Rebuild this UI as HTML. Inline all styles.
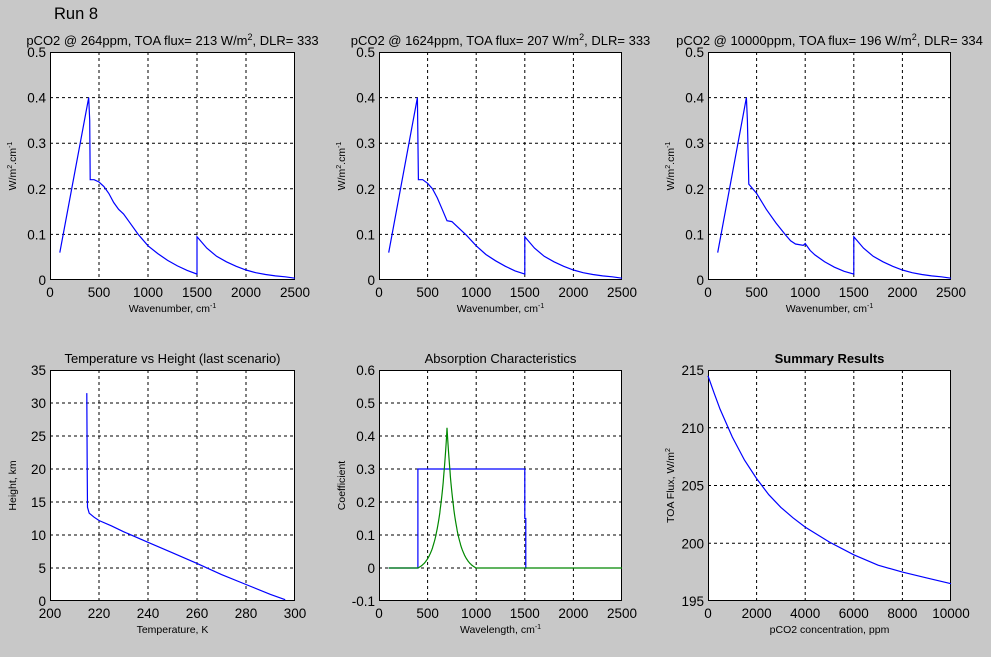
<!DOCTYPE html>
<html><head><meta charset="utf-8"><style>
html,body{margin:0;padding:0;background:#c8c8c8;}
svg{display:block;font-family:"Liberation Sans",Arial,sans-serif;}
</style></head><body>
<svg id="s" width="991" height="657" xmlns="http://www.w3.org/2000/svg">
<rect width="991" height="657" fill="#c8c8c8"/>
<text x="54" y="19" font-size="16.5" fill="#000">Run 8</text>
</svg>
<script>
(function(){
const S=document.getElementById('s');const NS='http://www.w3.org/2000/svg';
function el(t,a,txt){const e=document.createElementNS(NS,t);for(const k in a)e.setAttribute(k,a[k]);if(txt!==undefined)e.innerHTML=String(txt);S.appendChild(e);return e;}
function plot(o){
 const x0=o.x0,x1=o.x1,y0=o.y0,y1=o.y1,xmin=o.xmin,xmax=o.xmax,ymin=o.ymin,ymax=o.ymax;
 const X=v=>x0+(v-xmin)/(xmax-xmin)*(x1-x0), Y=v=>y1-(v-ymin)/(ymax-ymin)*(y1-y0);
 el('rect',{x:x0,y:y0,width:x1-x0,height:y1-y0,fill:'#fff'});
 o.xt.forEach(v=>{const p=X(v);if(v!==xmin&&v!==xmax)el('line',{x1:p,x2:p,y1:y0,y2:y1,stroke:'#000','stroke-dasharray':'3,3','stroke-width':1});
  el('text',{x:p,y:y1+17,'font-size':13.5,'text-anchor':'middle'},v);});
 o.yt.forEach(v=>{const p=Y(v);if(Math.abs(v-ymin)>1e-9&&Math.abs(v-ymax)>1e-9)el('line',{x1:x0,x2:x1,y1:p,y2:p,stroke:'#000','stroke-dasharray':'3,3','stroke-width':1});
  el('text',{x:x0-4,y:p+5,'font-size':13.5,'text-anchor':'end'},v);});
 el('rect',{x:x0+.5,y:y0+.5,width:x1-x0-1,height:y1-y0-1,fill:'none',stroke:'#000'});
 (o.series||[]).forEach(s=>el('polyline',{points:s.p.map(q=>X(q[0]).toFixed(1)+','+Y(q[1]).toFixed(1)).join(' '),fill:'none',stroke:s.c,'stroke-width':1.2}));
 el('text',{x:(x0+x1)/2,y:y0-7,'font-size':13,'text-anchor':'middle','font-weight':o.bold?'bold':'normal'},o.title);
 el('text',{x:(x0+x1)/2,y:y1+32,'font-size':10.5,'text-anchor':'middle'},o.xl);
 el('text',{x:0,y:0,'font-size':10.5,'text-anchor':'middle',transform:'translate('+(x0-34)+','+((y0+y1)/2)+') rotate(-90)'},o.yl);
}
const wt=[0,500,1000,1500,2000,2500], yt5=[0,0.1,0.2,0.3,0.4,0.5];
const tail=[[1500,0.095],[1600,0.07],[1700,0.052],[1800,0.04],[1900,0.03],[2000,0.022],[2100,0.016],[2200,0.012],[2300,0.009],[2400,0.007],[2500,0.004]];
const s1=[[100,0.06],[395,0.4],[405,0.35],[410,0.22],[450,0.22],[500,0.215],[550,0.205],[600,0.19],[650,0.17],[700,0.155],[750,0.145],[800,0.13],[900,0.1],[1000,0.075],[1100,0.058],[1200,0.043],[1300,0.031],[1400,0.021],[1500,0.013]].concat(tail);
const s2=[[100,0.06],[395,0.4],[405,0.22],[450,0.22],[500,0.212],[550,0.2],[600,0.18],[650,0.155],[700,0.13],[750,0.128],[800,0.118],[900,0.098],[1000,0.075],[1100,0.056],[1200,0.042],[1300,0.03],[1400,0.02],[1500,0.013]].concat(tail);
const s3=[[100,0.06],[395,0.4],[405,0.35],[420,0.21],[500,0.19],[600,0.155],[700,0.125],[800,0.098],[850,0.086],[900,0.079],[980,0.076],[1000,0.08],[1050,0.065],[1100,0.055],[1200,0.04],[1300,0.028],[1400,0.019],[1500,0.013]].concat(tail);
const wl='Wavenumber, cm<tspan dy="-4" font-size="7">-1</tspan>';
const yl='W/m<tspan dy="-4" font-size="7">2</tspan><tspan dy="4">.cm</tspan><tspan dy="-4" font-size="7">-1</tspan>';
const topCfg={y0:52,y1:280,xmin:0,xmax:2500,ymin:0,ymax:0.5,xt:wt,yt:yt5,xl:wl,yl:yl};
plot(Object.assign({},topCfg,{x0:50,x1:295,title:'pCO2 @ 264ppm, TOA flux= 213 W/m<tspan dy="-5" font-size="9">2</tspan><tspan dy="5">, DLR= 333</tspan>',series:[{c:'#00f',p:s1}]}));
plot(Object.assign({},topCfg,{x0:379,x1:622,title:'pCO2 @ 1624ppm, TOA flux= 207 W/m<tspan dy="-5" font-size="9">2</tspan><tspan dy="5">, DLR= 333</tspan>',series:[{c:'#00f',p:s2}]}));
plot(Object.assign({},topCfg,{x0:708,x1:951,title:'pCO2 @ 10000ppm, TOA flux= 196 W/m<tspan dy="-5" font-size="9">2</tspan><tspan dy="5">, DLR= 334</tspan>',series:[{c:'#00f',p:s3}]}));
plot({x0:50,x1:295,y0:370,y1:601,xmin:200,xmax:300,ymin:0,ymax:35,xt:[200,220,240,260,280,300],yt:[0,5,10,15,20,25,30,35],
 title:'Temperature vs Height (last scenario)',xl:'Temperature, K',yl:'Height, km',
 series:[{c:'#00f',p:[[215,31.5],[215.2,20],[215.3,14.2],[216,13.3],[218,12.7],[220,12.2],[225,11.4],[230,10.5],[240,8.9],[250,7.3],[260,5.7],[270,4],[280,2.5],[290,1],[296,0.2]]}]});
const k=84,e0=Math.exp(-300/k);const gf=d=>0.425*(Math.exp(-d/k)-e0)/(1-e0);
const g=[[100,0],[400,0]];for(let x=400;x<=1000;x+=5)g.push([x,gf(Math.abs(x-700))]);g.push([2500,0]);
plot({x0:379,x1:622,y0:370,y1:601,xmin:0,xmax:2500,ymin:-0.1,ymax:0.6,xt:wt,yt:[-0.1,0,0.1,0.2,0.3,0.4,0.5,0.6],
 title:'Absorption Characteristics',xl:'Wavelength, cm<tspan dy="-4" font-size="7">-1</tspan>',yl:'Coefficient',
 series:[{c:'#00f',p:[[100,0],[400,0],[400,0.3],[1500,0.3],[1500,0.15],[1510,0.15],[1510,0],[1520,0]]},{c:'#080',p:g}]});
plot({x0:708,x1:951,y0:370,y1:601,xmin:0,xmax:10000,ymin:195,ymax:215,xt:[0,2000,4000,6000,8000,10000],yt:[195,200,205,210,215],bold:true,
 title:'Summary Results',xl:'pCO2 concentration, ppm',yl:'TOA Flux, W/m<tspan dy="-4" font-size="7">2</tspan>',
 series:[{c:'#00f',p:[[0,214.5],[250,213],[500,211.6],[1000,209.2],[1500,207.2],[2000,205.6],[2500,204.2],[3000,203.1],[3500,202.2],[4000,201.4],[5000,200.1],[6000,199],[7000,198.1],[8000,197.5],[9000,197],[10000,196.5]]}]});
})();
</script>
</body></html>
